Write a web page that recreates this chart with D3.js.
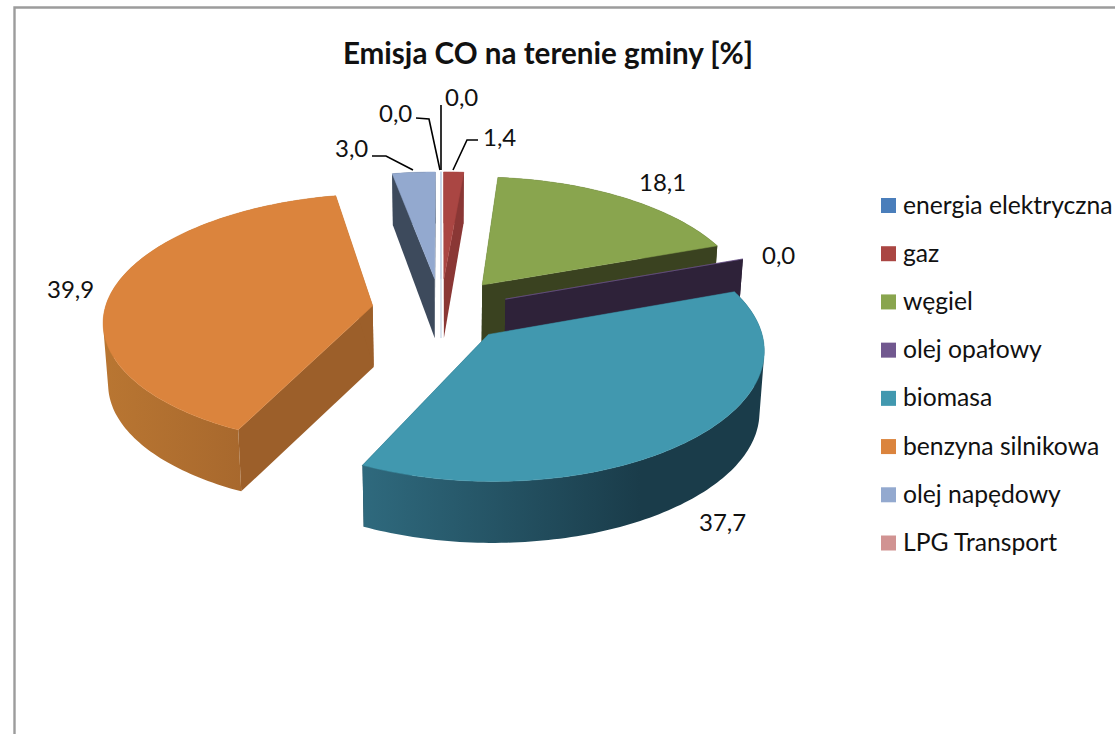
<!DOCTYPE html>
<html><head><meta charset="utf-8">
<script src="https://cdn.jsdelivr.net/npm/d3@7/dist/d3.min.js"></script>
<style>html,body{margin:0;padding:0;background:#fff}svg{display:block}text{font-family:Lato,"Open Sans",sans-serif;fill:#111}</style>
</head><body><svg id="c" width="1115" height="734"></svg>
<script>
const categories = ["energia elektryczna","gaz","węgiel","olej opałowy","biomasa","benzyna silnikowa","olej napędowy","LPG Transport"];
const values = [0.0,1.4,18.1,0.0,37.7,39.9,3.0,0.0];
const valueLabels = ["0,0","1,4","18,1","0,0","37,7","39,9","3,0","0,0"];
const colors = ["#4a7ebb","#aa4643","#89a54e","#71588f","#4198af","#db843d","#93a9cf","#d19392"];
const edgeColors = ["#4a7ebb","#8a3735","#3a4220","#2e2239","#1a3c4a","#9c5f2a","#3d4a5c","#d19392"];
const wallFrom = ["#4a7ebb","#8a3735","#3a4220","#2e2239","#2f6a7e","#b97632","#3d4a5c","#d19392"];
const wallTo = ["#4a7ebb","#8a3735","#3a4220","#2e2239","#1a3c4a","#9c5f2a","#3d4a5c","#d19392"];
const title = "Emisja CO na terenie gminy [%]";
// label anchors (x, baseline y, text-anchor) and leader polylines
const labelPos = [[445,106,"start"],[483,146,"start"],[639,191,"start"],[762,264,"start"],[699,531,"start"],[47,298,"start"],[335,157,"start"],[379,122,"start"]];
const leaders = [[[441,105],[441,170]],[[478,140],[467,140],[453,170]],null,null,null,null,[[372,156],[386,156],[413,170]],[[416,118],[429,119],[440,170]]];

const svg = d3.select("#c");
const cx = 441, cy = 310, RY = 125, persp = 0.11, explode = 0.258, depth = 61.5;

// horizontal radius grows toward the viewer (perspective of the 3-D view)
const rx = d3.scaleLinear().domain([-1,1]).range([298,238]);
function proj(X,Y,bottom){
  const f = 1/(1+persp*Y);
  let x = cx+X*rx(Y), y = cy-Y*RY*f;
  if(bottom){
    y += depth - 8*Math.max(0,Y);
    x = cx+(x-cx)*0.985;
  }
  return [x,y];
}
const line = d3.line();
const pie = d3.pie().sort(null).startAngle(0).endAngle(2*Math.PI).value(d=>d);
const arcs = pie(values).map((a,i)=>({...a,i,mid:(a.startAngle+a.endAngle)/2}));

const defs = svg.append("defs");
const g = svg.append("g");
// chart frame
g.append("path").attr("d","M14.5,734V7.5H1115").attr("fill","none").attr("stroke","#9c9c9c").attr("stroke-width",2.4);

function arcPts(a,bottom){
  const ox = explode*Math.sin(a.mid), oy = explode*Math.cos(a.mid);
  const n = Math.max(2,Math.ceil((a.endAngle-a.startAngle)/0.02));
  return d3.range(n+1).map(k=>{
    const t = a.startAngle+(a.endAngle-a.startAngle)*k/n;
    return proj(ox+Math.sin(t),oy+Math.cos(t),bottom);
  });
}
function apex(a,bottom){ return proj(explode*Math.sin(a.mid),explode*Math.cos(a.mid),bottom); }

const order = arcs.slice().sort((p,q)=>Math.cos(q.mid)-Math.cos(p.mid));
order.forEach(a=>{
  const i=a.i, top=arcPts(a,false), bot=arcPts(a,true), A=apex(a,false), B=apex(a,true);
  if(a.endAngle-a.startAngle<1e-6 && (a.mid<0.01 || a.mid>6.28)){
    // zero-size slices at twelve o'clock: a thin sliver only
    g.append("path").attr("d",line([top[0],A])).attr("stroke","#fff").attr("stroke-width",4);
    g.append("path").attr("d",line([top[0],A])).attr("stroke","#a9bfdc").attr("stroke-width",1.2);
    g.append("path").attr("d",line([A,B])).attr("stroke","#cfdbe9").attr("stroke-width",1);
    return;
  }
  // walls along both radial edges
  [[top[0],bot[0]],[top[top.length-1],bot[bot.length-1]]].forEach(e=>{
    g.append("path").attr("d",line([A,e[0],e[1],B])+"Z").attr("fill",edgeColors[i]);
  });
  // outer wall: quads of equal winding in one path, so their union has no seams
  if(top.length>2){
    const id="w"+i, xs=top.map(p=>p[0]);
    const lg=defs.append("linearGradient").attr("id",id).attr("gradientUnits","userSpaceOnUse")
      .attr("x1",i===4?360:d3.min(xs)).attr("x2",i===4?640:d3.max(xs)).attr("y1",0).attr("y2",0);
    lg.append("stop").attr("offset",0).attr("stop-color",wallFrom[i]);
    lg.append("stop").attr("offset",1).attr("stop-color",wallTo[i]);
    const d = d3.range(top.length-1).map(k=>{
      const q=[top[k],top[k+1],bot[k+1],bot[k]];
      if(d3.polygonArea(q)<0) q.reverse();
      return line(q)+"Z";
    }).join("");
    g.append("path").attr("d",d).attr("fill",`url(#${id})`).attr("fill-rule","nonzero");
  }
  // top face
  g.append("path").attr("d",line([A].concat(top))+"Z").attr("fill",colors[i]).attr("stroke",colors[i]).attr("stroke-width",0.5);
});

// leaders
leaders.forEach(l=>{ if(l) g.append("path").attr("d",line(l)).attr("fill","none").attr("stroke","#000").attr("stroke-width",1.6); });
// value labels
valueLabels.forEach((t,i)=>{
  g.append("text").attr("x",labelPos[i][0]).attr("y",labelPos[i][1]).attr("text-anchor",labelPos[i][2]).attr("font-size",24).text(t);
});
// title
g.append("text").attr("x",548).attr("y",64).attr("text-anchor","middle").attr("font-size",29.6).attr("font-weight",700).text(title);
// legend
const ly = d3.scalePoint().domain(categories).range([205.5,543]);
categories.forEach((c,i)=>{
  g.append("rect").attr("x",881).attr("y",ly(c)-7.5).attr("width",15).attr("height",15).attr("fill",colors[i]);
  g.append("text").attr("x",903).attr("y",ly(c)+8).attr("font-size",24.7).text(c);
});
</script></body></html>
